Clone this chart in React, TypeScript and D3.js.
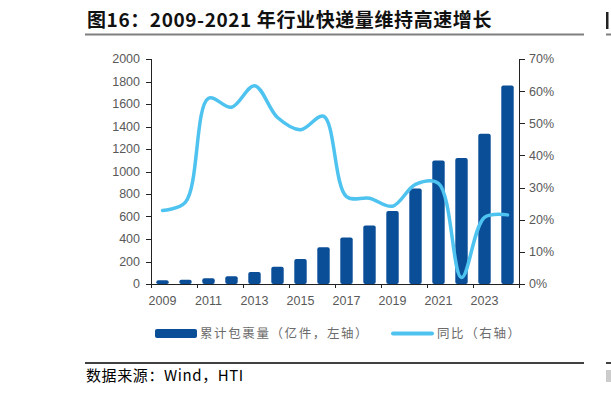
import React from 'react';
import * as d3 from 'd3';

const years = ['2009', '2010', '2011', '2012', '2013', '2014', '2015', '2016', '2017', '2018', '2019', '2020', '2021', '2022', '2023', '2024'];
const parcels = [33, 37, 52, 70, 106, 153, 222, 326, 414, 521, 650, 848, 1097, 1120, 1335, 1765];
const yoy = [0.229, 0.255, 0.578, 0.55, 0.617, 0.518, 0.48, 0.522, 0.272, 0.267, 0.242, 0.31, 0.313, 0.02, 0.207, 0.215];
const leftTicks = [0, 200, 400, 600, 800, 1000, 1200, 1400, 1600, 1800, 2000];
const rightTicks = [0, 0.1, 0.2, 0.3, 0.4, 0.5, 0.6, 0.7];
const xLabels = ['2009', '2011', '2013', '2015', '2017', '2019', '2021', '2023'];

const title = '图16：2009-2021 年行业快递量维持高速增长';
const legendBar = '累计包裹量（亿件，左轴）';
const legendLine = '同比（右轴）';
const source = '数据来源：Wind，HTI';

const W = 611;
const H = 397;
const margin = { left: 151, right: 92, top: 59, bottom: 113 };

const App = () => {
  const ref = React.useRef<SVGSVGElement>(null);

  React.useEffect(() => {
    const svg = d3.select(ref.current);
    svg.selectAll('*').remove();

    const barColor = '#0a4e98';
    const lineColor = '#4ec3f0';
    const axisText = '#595959';
    const font = 'Liberation Sans, Arial, sans-serif';
    const cjk = '"Noto Sans CJK SC", sans-serif';

    const x = d3.scaleBand()
      .domain(years)
      .range([margin.left, W - margin.right])
      .paddingInner(0.46)
      .paddingOuter(0.23);
    const step = x.step();
    const x0 = margin.left;

    const yL = d3.scaleLinear().domain([0, 2000]).range([H - margin.bottom, margin.top]);
    const yR = d3.scaleLinear().domain([0, 0.7]).range([H - margin.bottom, margin.top]);
    const bottom = H - margin.bottom;
    const right = W - margin.right;

    // title
    svg.append('text')
      .attr('x', 87).attr('y', 27)
      .attr('font-family', cjk).attr('font-weight', 'bold').attr('font-size', 19)
      .attr('letter-spacing', 0.6)
      .attr('fill', '#111')
      .text(title);
    svg.append('line').attr('x1', 85).attr('x2', 584).attr('y1', 34.5).attr('y2', 34.5)
      .attr('stroke', '#7f7f7f').attr('stroke-width', 2);
    svg.append('line').attr('x1', 606).attr('x2', W).attr('y1', 34.5).attr('y2', 34.5)
      .attr('stroke', '#7f7f7f').attr('stroke-width', 2);
    // edge of the next figure's title, cut off by the page
    svg.append('rect').attr('x', 606).attr('y', 12).attr('width', 2.5).attr('height', 17).attr('fill', '#222');

    // bars
    svg.append('g')
      .selectAll('rect')
      .data(parcels)
      .join('rect')
      .attr('x', (d, i) => x(years[i]) as number)
      .attr('y', d => yL(d))
      .attr('width', x.bandwidth())
      .attr('height', d => bottom - yL(d))
      .attr('rx', 2)
      .attr('fill', barColor);

    // line
    const line = d3.line<number>()
      .x((d, i) => (x(years[i]) as number) + x.bandwidth() / 2)
      .y(d => yR(d))
      .curve(d3.curveCatmullRom.alpha(0.5));
    svg.append('path')
      .datum(yoy)
      .attr('fill', 'none')
      .attr('stroke', lineColor)
      .attr('stroke-width', 3.5)
      .attr('stroke-linecap', 'round')
      .attr('d', line);

    // axes
    const ax = svg.append('g').attr('stroke', '#222').attr('stroke-width', 1);
    ax.append('line').attr('x1', x0 + 0.5).attr('x2', x0 + 0.5).attr('y1', margin.top).attr('y2', bottom + 3);
    ax.append('line').attr('x1', right + 0.5).attr('x2', right + 0.5).attr('y1', margin.top).attr('y2', bottom + 3);
    ax.append('line').attr('x1', x0).attr('x2', right + 1).attr('y1', bottom + 0.5).attr('y2', bottom + 0.5);

    leftTicks.forEach(t => {
      const yy = Math.round(yL(t)) + 0.5;
      ax.append('line').attr('x1', x0 - 5).attr('x2', x0 + 0.5).attr('y1', yy).attr('y2', yy);
    });
    rightTicks.forEach(t => {
      const yy = Math.round(yR(t)) + 0.5;
      ax.append('line').attr('x1', right + 0.5).attr('x2', right + 6).attr('y1', yy).attr('y2', yy);
    });
    for (let i = 0; i <= years.length; i += 2) {
      const xx = Math.round(x0 + step * i) + 0.5;
      ax.append('line').attr('x1', xx).attr('x2', xx).attr('y1', bottom).attr('y2', bottom + 4);
    }

    svg.append('g')
      .selectAll('text')
      .data(leftTicks)
      .join('text')
      .attr('x', x0 - 11)
      .attr('y', d => yL(d))
      .attr('dy', '0.35em')
      .attr('text-anchor', 'end')
      .attr('font-family', font).attr('font-size', 12.5)
      .attr('fill', axisText)
      .text(d => d);

    svg.append('g')
      .selectAll('text')
      .data(rightTicks)
      .join('text')
      .attr('x', right + 10)
      .attr('y', d => yR(d))
      .attr('dy', '0.35em')
      .attr('font-family', font).attr('font-size', 12.5)
      .attr('fill', axisText)
      .text(d => d3.format('.0%')(d));

    svg.append('g')
      .selectAll('text')
      .data(xLabels)
      .join('text')
      .attr('x', d => (x(d) as number) + x.bandwidth() / 2)
      .attr('y', bottom + 17)
      .attr('dy', '0.35em')
      .attr('text-anchor', 'middle')
      .attr('font-family', font).attr('font-size', 12.5)
      .attr('fill', axisText)
      .text(d => d);

    // legend
    const ly = 333.5;
    svg.append('rect').attr('x', 155).attr('y', ly - 4.5).attr('width', 42).attr('height', 9)
      .attr('rx', 2).attr('fill', barColor);
    svg.append('text').attr('x', 200).attr('y', ly).attr('dy', '0.35em')
      .attr('font-family', cjk).attr('font-size', 12.5).attr('fill', '#6b6b6b')
      .attr('letter-spacing', 1.6)
      .text(legendBar);
    svg.append('line').attr('x1', 393).attr('x2', 432).attr('y1', ly).attr('y2', ly)
      .attr('stroke', lineColor).attr('stroke-width', 4).attr('stroke-linecap', 'round');
    svg.append('text').attr('x', 437).attr('y', ly).attr('dy', '0.35em')
      .attr('font-family', cjk).attr('font-size', 12.5).attr('fill', '#6b6b6b')
      .attr('letter-spacing', 1.6)
      .text(legendLine);

    // source
    svg.append('line').attr('x1', 85).attr('x2', 584).attr('y1', 363).attr('y2', 363)
      .attr('stroke', '#000').attr('stroke-width', 1.5);
    svg.append('line').attr('x1', 606).attr('x2', W).attr('y1', 363).attr('y2', 363)
      .attr('stroke', '#000').attr('stroke-width', 1.5);
    svg.append('text').attr('x', 86).attr('y', 381)
      .attr('font-family', cjk).attr('font-size', 15).attr('fill', '#000')
      .attr('letter-spacing', 0.6)
      .text(source);
    // edge of the next figure's source note, cut off by the page
    svg.append('rect').attr('x', 606).attr('y', 370).attr('width', 5).attr('height', 12).attr('fill', '#ccc');
  }, []);

  return (
    <svg ref={ref} width={W} height={H}
      style={{ position: 'absolute', left: 0, top: 0, background: '#fff' }} />
  );
};

export default App;
